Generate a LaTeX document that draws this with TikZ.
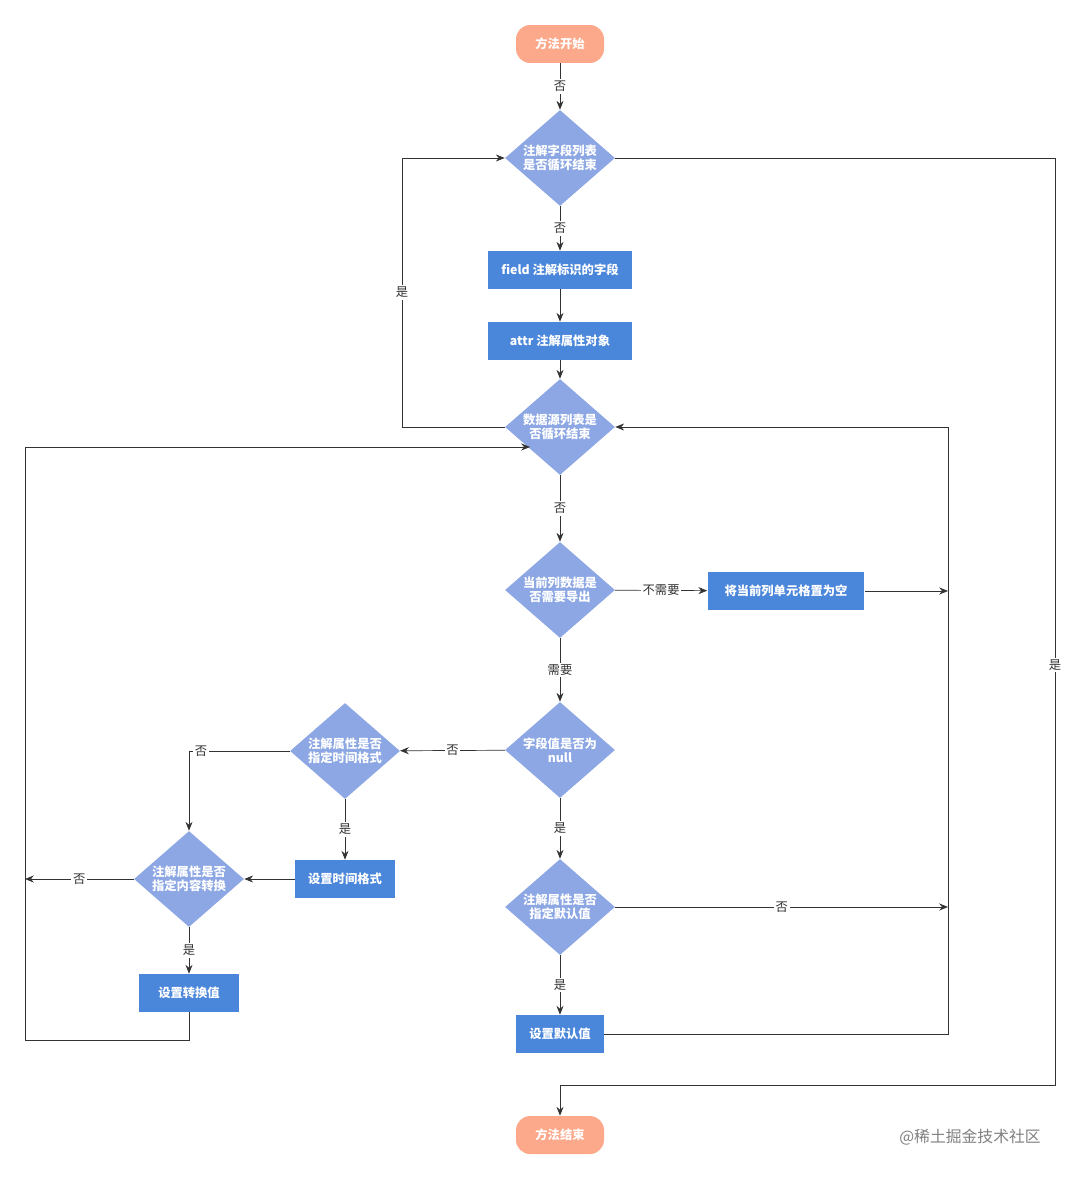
\documentclass[tikz,border=0pt]{standalone}
\usepackage{fontspec}
\setmainfont{Noto Sans CJK SC}
\usetikzlibrary{shapes.geometric,arrows.meta}
\definecolor{startorange}{HTML}{FCA88A}
\definecolor{decblue}{HTML}{8CA7E3}
\definecolor{boxblue}{HTML}{4A86DA}
\definecolor{linegray}{HTML}{333333}
\tikzset{
  term/.style={rectangle, rounded corners=8pt, fill=startorange, text=white, minimum width=1.76cm, minimum height=0.76cm, font=\fontsize{7}{8}\selectfont\bfseries},
  dec/.style={diamond, shape aspect=1.15, inner sep=0pt, minimum width=2.2cm, minimum height=1.92cm, fill=decblue, text=white, align=center, font=\fontsize{7}{8}\selectfont\bfseries},
  act/.style={rectangle, fill=boxblue, text=white, minimum height=0.76cm, font=\fontsize{7}{8}\selectfont\bfseries},
  flow/.style={draw=linegray, -{Stealth[length=5pt,width=4pt]}},
  lbl/.style={fill=white, inner sep=1pt, text=linegray, font=\fontsize{7}{8}\selectfont}
}
\begin{document}
\begin{tikzpicture}[x=0.02cm, y=-0.02cm]
  \useasboundingbox (0,0) rectangle (1080,1179);
  % Knoten
  \node[term] (start) at (560,44) {方法开始};
  \node[dec] (fieldloop) at (560,158) {注解字段列表\\是否循环结束};
  \node[act, minimum width=2.9cm] (field) at (560,270) {field 注解标识的字段};
  \node[act, minimum width=2.9cm] (attr) at (560,341) {attr 注解属性对象};
  \node[dec] (dataloop) at (560,427) {数据源列表是\\否循环结束};
  \node[dec] (export) at (560,590) {当前列数据是\\否需要导出};
  \node[act, minimum width=3.14cm] (empty) at (786,591) {将当前列单元格置为空};
  \node[dec] (isnull) at (560,750) {字段值是否为\\null};
  \node[dec] (timefmt) at (345,751) {注解属性是否\\指定时间格式};
  \node[act, minimum width=2cm] (settime) at (345,879) {设置时间格式};
  \node[dec] (convert) at (189,879) {注解属性是否\\指定内容转换};
  \node[act, minimum width=2cm] (setconv) at (189,993) {设置转换值};
  \node[dec] (default) at (560,907) {注解属性是否\\指定默认值};
  \node[act, minimum width=1.76cm] (setdef) at (560,1034) {设置默认值};
  \node[term] (stop) at (560,1135) {方法结束};
  \node[text=gray, font=\fontsize{9}{10}\selectfont] (mark) at (970,1137) {@稀土掘金技术社区};
  % Hilfspunkte
  \coordinate (rightbus) at (948,591);
  \coordinate (leftbus) at (25,879);
  \coordinate (dataentry) at (530,447);
  % Verbindungen
  \draw[flow] (start) -- node[lbl] {否} (fieldloop);
  \draw[flow] (fieldloop) -- node[lbl] {否} (field);
  \draw[flow] (field) -- (attr);
  \draw[flow] (attr) -- (dataloop);
  \draw[flow] (dataloop.west) -- (402,427) -- node[lbl] {是} (402,158) -- (fieldloop.west);
  \draw[flow] (fieldloop.east) -- (1055,158) -- node[lbl, pos=0.547] {是} (1055,1085) -- (560,1085) -- (stop);
  \draw[flow] (dataloop) -- node[lbl] {否} (export);
  \draw[flow] (export) -- node[lbl] {不需要} (empty);
  \draw[flow] (empty) -- (rightbus);
  \draw[flow] (export) -- node[lbl] {需要} (isnull);
  \draw[flow] (isnull) -- node[lbl] {否} (timefmt);
  \draw[flow] (timefmt) -- node[lbl] {是} (settime);
  \draw[flow] (settime) -- (convert);
  \draw[flow] (timefmt.west) -- node[lbl, pos=0.88] {否} (189,751) -- (convert.north);
  \draw[flow] (convert) -- node[lbl] {否} (leftbus);
  \draw[flow] (convert) -- node[lbl] {是} (setconv);
  \draw[flow] (setconv.south) -- (189,1040) -- (25,1040) -- (25,447) -- (dataentry);
  \draw[flow] (isnull) -- node[lbl] {是} (default);
  \draw[flow] (default) -- node[lbl] {否} (948,907);
  \draw[flow] (default) -- node[lbl] {是} (setdef);
  \draw[flow] (setdef.east) -- (948,1034) -- (948,427) -- (dataloop.east);
\end{tikzpicture}
\end{document}
